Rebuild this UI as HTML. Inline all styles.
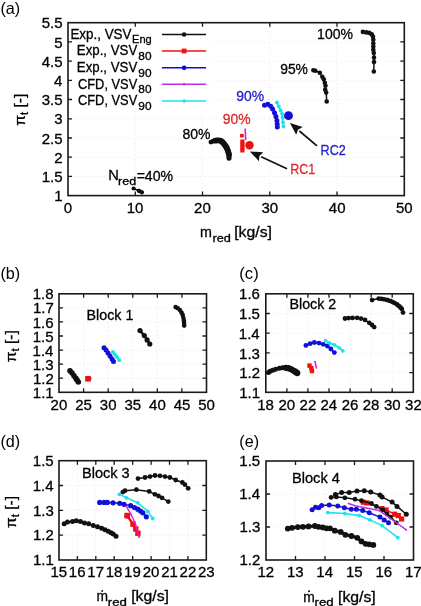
<!DOCTYPE html>
<html><head><meta charset="utf-8"><style>
html,body{margin:0;padding:0;background:#fff;width:421px;height:606px;overflow:hidden}
svg{display:block;font-family:"Liberation Sans", sans-serif;filter:blur(0.35px)}
</style></head><body>
<svg width="421" height="606" viewBox="0 0 421 606">
<path d="M135.3 22.7V195.6 M202.5 22.7V195.6 M269.8 22.7V195.6 M337.0 22.7V195.6 M68.0 176.4H404.3 M68.0 157.2H404.3 M68.0 138.0H404.3 M68.0 118.8H404.3 M68.0 99.5H404.3 M68.0 80.3H404.3 M68.0 61.1H404.3 M68.0 41.9H404.3" stroke="#eaeaea" stroke-width="0.8" stroke-dasharray="1.5 2.5" fill="none"/>
<rect x="69" y="23.5" width="140" height="86" fill="#fff"/>
<path d="M135.3 195.6v-4 M135.3 22.7v4 M202.5 195.6v-4 M202.5 22.7v4 M269.8 195.6v-4 M269.8 22.7v4 M337.0 195.6v-4 M337.0 22.7v4 M68.0 176.4h4 M404.3 176.4h-4 M68.0 157.2h4 M404.3 157.2h-4 M68.0 138.0h4 M404.3 138.0h-4 M68.0 118.8h4 M404.3 118.8h-4 M68.0 99.5h4 M404.3 99.5h-4 M68.0 80.3h4 M404.3 80.3h-4 M68.0 61.1h4 M404.3 61.1h-4 M68.0 41.9h4 M404.3 41.9h-4" stroke="#1a1a1a" stroke-width="1.3" fill="none"/>
<rect x="68.0" y="22.7" width="336.3" height="172.9" stroke="#1a1a1a" stroke-width="1.6" fill="none"/>
<text x="63.82" y="213.00" font-size="15" fill="#000" stroke="#000" stroke-width="0.3">0</text>
<text x="126.65" y="213.00" font-size="15" fill="#000" stroke="#000" stroke-width="0.3">10</text>
<text x="194.10" y="213.00" font-size="15" fill="#000" stroke="#000" stroke-width="0.3">20</text>
<text x="261.45" y="213.00" font-size="15" fill="#000" stroke="#000" stroke-width="0.3">30</text>
<text x="328.83" y="213.00" font-size="15" fill="#000" stroke="#000" stroke-width="0.3">40</text>
<text x="395.96" y="213.00" font-size="15" fill="#000" stroke="#000" stroke-width="0.3">50</text>
<text x="54.29" y="201.20" font-size="15" fill="#000" stroke="#000" stroke-width="0.3">1</text>
<text x="41.65" y="181.99" font-size="15" fill="#000" stroke="#000" stroke-width="0.3">1.5</text>
<text x="54.32" y="162.78" font-size="15" fill="#000" stroke="#000" stroke-width="0.3">2</text>
<text x="41.65" y="143.57" font-size="15" fill="#000" stroke="#000" stroke-width="0.3">2.5</text>
<text x="54.21" y="124.36" font-size="15" fill="#000" stroke="#000" stroke-width="0.3">3</text>
<text x="41.65" y="105.14" font-size="15" fill="#000" stroke="#000" stroke-width="0.3">3.5</text>
<text x="53.99" y="85.93" font-size="15" fill="#000" stroke="#000" stroke-width="0.3">4</text>
<text x="41.65" y="66.72" font-size="15" fill="#000" stroke="#000" stroke-width="0.3">4.5</text>
<text x="54.17" y="47.51" font-size="15" fill="#000" stroke="#000" stroke-width="0.3">5</text>
<text x="41.65" y="28.30" font-size="15" fill="#000" stroke="#000" stroke-width="0.3">5.5</text>
<text x="0.44" y="14.40" font-size="16.5" fill="#000" stroke="#000" stroke-width="0" textLength="19.71" lengthAdjust="spacingAndGlyphs">(a)</text>
<path d="M83.6 293.8V392.3 M108.2 293.8V392.3 M132.8 293.8V392.3 M157.3 293.8V392.3 M181.9 293.8V392.3 M59.0 378.2H206.5 M59.0 364.2H206.5 M59.0 350.1H206.5 M59.0 336.0H206.5 M59.0 321.9H206.5 M59.0 307.9H206.5" stroke="#eaeaea" stroke-width="0.8" stroke-dasharray="1.5 2.5" fill="none"/>
<path d="M83.6 392.3v-4 M83.6 293.8v4 M108.2 392.3v-4 M108.2 293.8v4 M132.8 392.3v-4 M132.8 293.8v4 M157.3 392.3v-4 M157.3 293.8v4 M181.9 392.3v-4 M181.9 293.8v4 M59.0 378.2h4 M206.5 378.2h-4 M59.0 364.2h4 M206.5 364.2h-4 M59.0 350.1h4 M206.5 350.1h-4 M59.0 336.0h4 M206.5 336.0h-4 M59.0 321.9h4 M206.5 321.9h-4 M59.0 307.9h4 M206.5 307.9h-4" stroke="#1a1a1a" stroke-width="1.3" fill="none"/>
<rect x="59.0" y="293.8" width="147.5" height="98.5" stroke="#1a1a1a" stroke-width="1.6" fill="none"/>
<text x="50.58" y="410.00" font-size="15" fill="#000" stroke="#000" stroke-width="0.3">20</text>
<text x="75.18" y="410.00" font-size="15" fill="#000" stroke="#000" stroke-width="0.3">25</text>
<text x="99.84" y="410.00" font-size="15" fill="#000" stroke="#000" stroke-width="0.3">30</text>
<text x="124.44" y="410.00" font-size="15" fill="#000" stroke="#000" stroke-width="0.3">35</text>
<text x="149.12" y="410.00" font-size="15" fill="#000" stroke="#000" stroke-width="0.3">40</text>
<text x="173.72" y="410.00" font-size="15" fill="#000" stroke="#000" stroke-width="0.3">45</text>
<text x="198.16" y="410.00" font-size="15" fill="#000" stroke="#000" stroke-width="0.3">50</text>
<text x="32.86" y="397.90" font-size="15" fill="#000" stroke="#000" stroke-width="0.3">1.1</text>
<text x="32.90" y="383.83" font-size="15" fill="#000" stroke="#000" stroke-width="0.3">1.2</text>
<text x="32.79" y="369.76" font-size="15" fill="#000" stroke="#000" stroke-width="0.3">1.3</text>
<text x="32.56" y="355.69" font-size="15" fill="#000" stroke="#000" stroke-width="0.3">1.4</text>
<text x="32.75" y="341.61" font-size="15" fill="#000" stroke="#000" stroke-width="0.3">1.5</text>
<text x="32.79" y="327.54" font-size="15" fill="#000" stroke="#000" stroke-width="0.3">1.6</text>
<text x="32.90" y="313.47" font-size="15" fill="#000" stroke="#000" stroke-width="0.3">1.7</text>
<text x="32.79" y="299.40" font-size="15" fill="#000" stroke="#000" stroke-width="0.3">1.8</text>
<text x="0.44" y="279.30" font-size="16.5" fill="#000" stroke="#000" stroke-width="0" textLength="19.71" lengthAdjust="spacingAndGlyphs">(b)</text>
<path d="M286.9 293.8V392.3 M307.9 293.8V392.3 M329.0 293.8V392.3 M350.1 293.8V392.3 M371.2 293.8V392.3 M392.2 293.8V392.3 M265.8 372.6H413.3 M265.8 352.9H413.3 M265.8 333.2H413.3 M265.8 313.5H413.3" stroke="#eaeaea" stroke-width="0.8" stroke-dasharray="1.5 2.5" fill="none"/>
<path d="M286.9 392.3v-4 M286.9 293.8v4 M307.9 392.3v-4 M307.9 293.8v4 M329.0 392.3v-4 M329.0 293.8v4 M350.1 392.3v-4 M350.1 293.8v4 M371.2 392.3v-4 M371.2 293.8v4 M392.2 392.3v-4 M392.2 293.8v4 M265.8 372.6h4 M413.3 372.6h-4 M265.8 352.9h4 M413.3 352.9h-4 M265.8 333.2h4 M413.3 333.2h-4 M265.8 313.5h4 M413.3 313.5h-4" stroke="#1a1a1a" stroke-width="1.3" fill="none"/>
<rect x="265.8" y="293.8" width="147.5" height="98.5" stroke="#1a1a1a" stroke-width="1.6" fill="none"/>
<text x="257.23" y="410.20" font-size="15" fill="#000" stroke="#000" stroke-width="0.3">18</text>
<text x="278.45" y="410.20" font-size="15" fill="#000" stroke="#000" stroke-width="0.3">20</text>
<text x="299.62" y="410.20" font-size="15" fill="#000" stroke="#000" stroke-width="0.3">22</text>
<text x="320.52" y="410.20" font-size="15" fill="#000" stroke="#000" stroke-width="0.3">24</text>
<text x="341.70" y="410.20" font-size="15" fill="#000" stroke="#000" stroke-width="0.3">26</text>
<text x="362.78" y="410.20" font-size="15" fill="#000" stroke="#000" stroke-width="0.3">28</text>
<text x="383.90" y="410.20" font-size="15" fill="#000" stroke="#000" stroke-width="0.3">30</text>
<text x="405.07" y="410.20" font-size="15" fill="#000" stroke="#000" stroke-width="0.3">32</text>
<text x="239.16" y="397.90" font-size="15" fill="#000" stroke="#000" stroke-width="0.3">1.1</text>
<text x="239.20" y="378.20" font-size="15" fill="#000" stroke="#000" stroke-width="0.3">1.2</text>
<text x="239.09" y="358.50" font-size="15" fill="#000" stroke="#000" stroke-width="0.3">1.3</text>
<text x="238.86" y="338.80" font-size="15" fill="#000" stroke="#000" stroke-width="0.3">1.4</text>
<text x="239.05" y="319.10" font-size="15" fill="#000" stroke="#000" stroke-width="0.3">1.5</text>
<text x="239.09" y="299.40" font-size="15" fill="#000" stroke="#000" stroke-width="0.3">1.6</text>
<text x="239.31" y="279.30" font-size="16.5" fill="#000" stroke="#000" stroke-width="0" textLength="19.40" lengthAdjust="spacingAndGlyphs">(c)</text>
<path d="M77.4 460.7V560.0 M95.8 460.7V560.0 M114.2 460.7V560.0 M132.7 460.7V560.0 M151.1 460.7V560.0 M169.5 460.7V560.0 M187.9 460.7V560.0 M59.0 535.2H206.3 M59.0 510.3H206.3 M59.0 485.5H206.3" stroke="#eaeaea" stroke-width="0.8" stroke-dasharray="1.5 2.5" fill="none"/>
<path d="M77.4 560.0v-4 M77.4 460.7v4 M95.8 560.0v-4 M95.8 460.7v4 M114.2 560.0v-4 M114.2 460.7v4 M132.7 560.0v-4 M132.7 460.7v4 M151.1 560.0v-4 M151.1 460.7v4 M169.5 560.0v-4 M169.5 460.7v4 M187.9 560.0v-4 M187.9 460.7v4 M59.0 535.2h4 M206.3 535.2h-4 M59.0 510.3h4 M206.3 510.3h-4 M59.0 485.5h4 M206.3 485.5h-4" stroke="#1a1a1a" stroke-width="1.3" fill="none"/>
<rect x="59.0" y="460.7" width="147.3" height="99.3" stroke="#1a1a1a" stroke-width="1.6" fill="none"/>
<text x="50.41" y="577.00" font-size="15" fill="#000" stroke="#000" stroke-width="0.3">15</text>
<text x="68.84" y="577.00" font-size="15" fill="#000" stroke="#000" stroke-width="0.3">16</text>
<text x="87.31" y="577.00" font-size="15" fill="#000" stroke="#000" stroke-width="0.3">17</text>
<text x="105.67" y="577.00" font-size="15" fill="#000" stroke="#000" stroke-width="0.3">18</text>
<text x="124.10" y="577.00" font-size="15" fill="#000" stroke="#000" stroke-width="0.3">19</text>
<text x="142.64" y="577.00" font-size="15" fill="#000" stroke="#000" stroke-width="0.3">20</text>
<text x="161.13" y="577.00" font-size="15" fill="#000" stroke="#000" stroke-width="0.3">21</text>
<text x="179.56" y="577.00" font-size="15" fill="#000" stroke="#000" stroke-width="0.3">22</text>
<text x="197.92" y="577.00" font-size="15" fill="#000" stroke="#000" stroke-width="0.3">23</text>
<text x="32.96" y="565.30" font-size="15" fill="#000" stroke="#000" stroke-width="0.3">1.1</text>
<text x="33.00" y="540.48" font-size="15" fill="#000" stroke="#000" stroke-width="0.3">1.2</text>
<text x="32.89" y="515.65" font-size="15" fill="#000" stroke="#000" stroke-width="0.3">1.3</text>
<text x="32.66" y="490.83" font-size="15" fill="#000" stroke="#000" stroke-width="0.3">1.4</text>
<text x="32.85" y="466.00" font-size="15" fill="#000" stroke="#000" stroke-width="0.3">1.5</text>
<text x="0.44" y="447.00" font-size="16.5" fill="#000" stroke="#000" stroke-width="0" textLength="19.71" lengthAdjust="spacingAndGlyphs">(d)</text>
<path d="M295.5 461.0V560.0 M325.0 461.0V560.0 M354.5 461.0V560.0 M384.0 461.0V560.0 M266.0 527.0H413.5 M266.0 494.0H413.5" stroke="#eaeaea" stroke-width="0.8" stroke-dasharray="1.5 2.5" fill="none"/>
<path d="M295.5 560.0v-4 M295.5 461.0v4 M325.0 560.0v-4 M325.0 461.0v4 M354.5 560.0v-4 M354.5 461.0v4 M384.0 560.0v-4 M384.0 461.0v4 M266.0 527.0h4 M413.5 527.0h-4 M266.0 494.0h4 M413.5 494.0h-4" stroke="#1a1a1a" stroke-width="1.3" fill="none"/>
<rect x="266.0" y="461.0" width="147.5" height="99.0" stroke="#1a1a1a" stroke-width="1.6" fill="none"/>
<text x="257.49" y="577.00" font-size="15" fill="#000" stroke="#000" stroke-width="0.3">12</text>
<text x="286.93" y="577.00" font-size="15" fill="#000" stroke="#000" stroke-width="0.3">13</text>
<text x="316.32" y="577.00" font-size="15" fill="#000" stroke="#000" stroke-width="0.3">14</text>
<text x="345.91" y="577.00" font-size="15" fill="#000" stroke="#000" stroke-width="0.3">15</text>
<text x="375.43" y="577.00" font-size="15" fill="#000" stroke="#000" stroke-width="0.3">16</text>
<text x="404.99" y="577.00" font-size="15" fill="#000" stroke="#000" stroke-width="0.3">17</text>
<text x="239.50" y="565.30" font-size="15" fill="#000" stroke="#000" stroke-width="0.3">1.2</text>
<text x="239.39" y="532.30" font-size="15" fill="#000" stroke="#000" stroke-width="0.3">1.3</text>
<text x="239.16" y="499.30" font-size="15" fill="#000" stroke="#000" stroke-width="0.3">1.4</text>
<text x="239.35" y="466.30" font-size="15" fill="#000" stroke="#000" stroke-width="0.3">1.5</text>
<text x="239.34" y="446.80" font-size="16.5" fill="#000" stroke="#000" stroke-width="0" textLength="19.82" lengthAdjust="spacingAndGlyphs">(e)</text>
<path d="M362.9 31.9 L366.3 32.4 L369.3 32.9 L371.8 34.4 L373.0 36.8 L373.3 39.8 L373.3 43.3 L373.3 46.5 L373.3 49.7 L373.8 53.0 L374.0 57.6 L374.0 62.1 L373.8 71.5" stroke="#111" stroke-width="1.5" fill="none" stroke-linejoin="round" stroke-linecap="round"/>
<circle cx="362.9" cy="31.9" r="2.3" fill="#111"/>
<circle cx="366.3" cy="32.4" r="2.3" fill="#111"/>
<circle cx="369.3" cy="32.9" r="2.3" fill="#111"/>
<circle cx="371.8" cy="34.4" r="2.3" fill="#111"/>
<circle cx="373.0" cy="36.8" r="2.3" fill="#111"/>
<circle cx="373.3" cy="39.8" r="2.3" fill="#111"/>
<circle cx="373.3" cy="43.3" r="2.3" fill="#111"/>
<circle cx="373.3" cy="46.5" r="2.3" fill="#111"/>
<circle cx="373.3" cy="49.7" r="2.3" fill="#111"/>
<circle cx="373.8" cy="53.0" r="2.3" fill="#111"/>
<circle cx="374.0" cy="57.6" r="2.3" fill="#111"/>
<circle cx="374.0" cy="62.1" r="2.3" fill="#111"/>
<circle cx="373.8" cy="71.5" r="2.3" fill="#111"/>
<path d="M313.4 70.3 L315.3 70.8 L319.8 72.8 L322.3 76.8 L323.8 79.3 L324.8 82.7 L325.5 85.7 L325.2 89.7 L326.2 92.6 L326.7 101.5" stroke="#111" stroke-width="1.5" fill="none" stroke-linejoin="round" stroke-linecap="round"/>
<circle cx="313.4" cy="70.3" r="2.3" fill="#111"/>
<circle cx="315.3" cy="70.8" r="2.3" fill="#111"/>
<circle cx="319.8" cy="72.8" r="2.3" fill="#111"/>
<circle cx="322.3" cy="76.8" r="2.3" fill="#111"/>
<circle cx="323.8" cy="79.3" r="2.3" fill="#111"/>
<circle cx="324.8" cy="82.7" r="2.3" fill="#111"/>
<circle cx="325.5" cy="85.7" r="2.3" fill="#111"/>
<circle cx="325.2" cy="89.7" r="2.3" fill="#111"/>
<circle cx="326.2" cy="92.6" r="2.3" fill="#111"/>
<circle cx="326.7" cy="101.5" r="2.3" fill="#111"/>
<path d="M210.9 142.1 L213.0 141.2 L215.2 140.7" stroke="#111" stroke-width="2" fill="none" stroke-linejoin="round" stroke-linecap="round"/>
<circle cx="210.9" cy="142.1" r="2.4" fill="#111"/>
<circle cx="213.0" cy="141.2" r="2.4" fill="#111"/>
<circle cx="215.2" cy="140.7" r="2.4" fill="#111"/>
<path d="M215.2 140.7 L217.0 140.3 L219.0 140.4 L221.0 141.0 L222.3 141.9 L223.5 143.2 L224.7 144.7 L225.7 146.2 L226.6 147.5 L227.3 149.2 L228.0 150.9 L228.5 152.7 L229.0 154.5" stroke="#111" stroke-width="4" fill="none" stroke-linejoin="round" stroke-linecap="round"/>
<circle cx="215.2" cy="140.7" r="2.9" fill="#111"/>
<circle cx="217.0" cy="140.3" r="2.9" fill="#111"/>
<circle cx="219.0" cy="140.4" r="2.9" fill="#111"/>
<circle cx="221.0" cy="141.0" r="2.9" fill="#111"/>
<circle cx="222.3" cy="141.9" r="2.9" fill="#111"/>
<circle cx="223.5" cy="143.2" r="2.9" fill="#111"/>
<circle cx="224.7" cy="144.7" r="2.9" fill="#111"/>
<circle cx="225.7" cy="146.2" r="2.9" fill="#111"/>
<circle cx="226.6" cy="147.5" r="2.9" fill="#111"/>
<circle cx="227.3" cy="149.2" r="2.9" fill="#111"/>
<circle cx="228.0" cy="150.9" r="2.9" fill="#111"/>
<circle cx="228.5" cy="152.7" r="2.9" fill="#111"/>
<circle cx="229.0" cy="154.5" r="2.9" fill="#111"/>
<path d="M229.0 154.5 L229.0 156.5 L229.0 158.3" stroke="#111" stroke-width="2" fill="none" stroke-linejoin="round" stroke-linecap="round"/>
<circle cx="229.0" cy="154.5" r="2.5" fill="#111"/>
<circle cx="229.0" cy="156.5" r="2.5" fill="#111"/>
<circle cx="229.0" cy="158.3" r="2.5" fill="#111"/>
<path d="M133.6 188.5 L139.0 190.9 L141.9 192.3" stroke="#111" stroke-width="1.5" fill="none" stroke-linejoin="round" stroke-linecap="round"/>
<circle cx="133.6" cy="188.5" r="2.1" fill="#111"/>
<circle cx="139.0" cy="190.9" r="2.1" fill="#111"/>
<circle cx="141.9" cy="192.3" r="2.1" fill="#111"/>
<path d="M138.5 190.6 L142 192.4" stroke="#111" stroke-width="3.6" stroke-linecap="round"/>
<path d="M264.5 105.2 L267.8 104.3 L270.7 106.2 L272.6 109.0 L274.5 112.8 L275.9 116.6 L276.9 120.4 L277.2 124.0 L277.3 127.1" stroke="#1010d8" stroke-width="1.6" fill="none" stroke-linejoin="round" stroke-linecap="round"/>
<circle cx="264.5" cy="105.2" r="2.5" fill="#1010d8"/>
<circle cx="267.8" cy="104.3" r="2.5" fill="#1010d8"/>
<circle cx="270.7" cy="106.2" r="2.5" fill="#1010d8"/>
<circle cx="272.6" cy="109.0" r="2.5" fill="#1010d8"/>
<circle cx="274.5" cy="112.8" r="2.5" fill="#1010d8"/>
<circle cx="275.9" cy="116.6" r="2.5" fill="#1010d8"/>
<circle cx="276.9" cy="120.4" r="2.5" fill="#1010d8"/>
<circle cx="277.2" cy="124.0" r="2.5" fill="#1010d8"/>
<circle cx="277.3" cy="127.1" r="2.5" fill="#1010d8"/>
<path d="M276.9 102.4 L278.8 106.6 L280.7 110.4 L282.1 113.8 L282.6 117.6 L283.0 122.3 L283.5 126.6" stroke="#20e0f0" stroke-width="2.0" fill="none" stroke-linejoin="round" stroke-linecap="round"/>
<circle cx="276.9" cy="102.4" r="1.9" fill="#20e0f0"/>
<circle cx="278.8" cy="106.6" r="1.9" fill="#20e0f0"/>
<circle cx="280.7" cy="110.4" r="1.9" fill="#20e0f0"/>
<circle cx="282.1" cy="113.8" r="1.9" fill="#20e0f0"/>
<circle cx="282.6" cy="117.6" r="1.9" fill="#20e0f0"/>
<circle cx="283.0" cy="122.3" r="1.9" fill="#20e0f0"/>
<circle cx="283.5" cy="126.6" r="1.9" fill="#20e0f0"/>
<rect x="240.1" y="133.9" width="3.6" height="3.6" fill="#f01010"/>
<path d="M242.4 141.6 L242.4 144.5 L242.4 147.5 L242.4 150.4" stroke="#f01010" stroke-width="2" fill="none" stroke-linejoin="round" stroke-linecap="round"/>
<rect x="240.3" y="139.5" width="4.2" height="4.2" fill="#f01010"/>
<rect x="240.3" y="142.4" width="4.2" height="4.2" fill="#f01010"/>
<rect x="240.3" y="145.4" width="4.2" height="4.2" fill="#f01010"/>
<rect x="240.3" y="148.3" width="4.2" height="4.2" fill="#f01010"/>
<path d="M245.2 128.6 L245.7 140" stroke="#d020e0" stroke-width="1.6" fill="none"/>
<circle cx="249.5" cy="145.2" r="4.2" fill="#f01010"/>
<circle cx="288.5" cy="115.7" r="4.4" fill="#1010d8"/>
<path d="M299.4 131.0 L317.0 145.8" stroke="#111" stroke-width="1.7"/>
<path d="M289.9 122.9 L296.2 134.8 L298.0 129.8 L302.7 127.1 Z" fill="#111"/>
<path d="M261.1 156.7 L287.0 168.7" stroke="#111" stroke-width="1.7"/>
<path d="M249.8 151.5 L259.0 161.3 L259.4 156.0 L263.2 152.2 Z" fill="#111"/>
<text x="317.10" y="38.80" font-size="14.5" fill="#000" stroke="#000" stroke-width="0.3" textLength="35.88" lengthAdjust="spacingAndGlyphs">100%</text>
<text x="280.19" y="74.40" font-size="14.5" fill="#000" stroke="#000" stroke-width="0.3" textLength="27.77" lengthAdjust="spacingAndGlyphs">95%</text>
<text x="236.29" y="101.40" font-size="14.5" fill="#2525c8" stroke="#2525c8" stroke-width="0.3" textLength="27.87" lengthAdjust="spacingAndGlyphs">90%</text>
<text x="222.69" y="124.40" font-size="14.5" fill="#dd2a2a" stroke="#dd2a2a" stroke-width="0.3" textLength="27.87" lengthAdjust="spacingAndGlyphs">90%</text>
<text x="182.56" y="139.40" font-size="14.5" fill="#000" stroke="#000" stroke-width="0.3" textLength="28.01" lengthAdjust="spacingAndGlyphs">80%</text>
<text x="108.24" y="180.00" font-size="14.5" fill="#000" stroke="#000" stroke-width="0.3" textLength="10.62" lengthAdjust="spacingAndGlyphs">N</text>
<text x="118.10" y="184.80" font-size="11" fill="#000" stroke="#000" stroke-width="0.3" textLength="18.14" lengthAdjust="spacingAndGlyphs">red</text>
<text x="136.65" y="180.80" font-size="14.5" fill="#000" stroke="#000" stroke-width="0.3" textLength="36.40" lengthAdjust="spacingAndGlyphs">=40%</text>
<text x="320.61" y="155.00" font-size="14.5" fill="#2525c8" stroke="#2525c8" stroke-width="0.3" textLength="25.28" lengthAdjust="spacingAndGlyphs">RC2</text>
<text x="290.22" y="174.40" font-size="14.5" fill="#dd2a30" stroke="#dd2a30" stroke-width="0.3" textLength="25.03" lengthAdjust="spacingAndGlyphs">RC1</text>
<text x="70.45" y="38.70" font-size="14.5" fill="#000" stroke="#000" stroke-width="0.3" textLength="60.97" lengthAdjust="spacingAndGlyphs">Exp., VSV</text>
<text x="132.04" y="43.30" font-size="11" fill="#000" stroke="#000" stroke-width="0.3" textLength="19.73" lengthAdjust="spacingAndGlyphs">Eng</text>
<text x="76.86" y="55.30" font-size="14.5" fill="#000" stroke="#000" stroke-width="0.3" textLength="60.36" lengthAdjust="spacingAndGlyphs">Exp., VSV</text>
<text x="138.35" y="59.90" font-size="11" fill="#000" stroke="#000" stroke-width="0.3" textLength="13.18" lengthAdjust="spacingAndGlyphs">80</text>
<text x="76.86" y="72.00" font-size="14.5" fill="#000" stroke="#000" stroke-width="0.3" textLength="60.36" lengthAdjust="spacingAndGlyphs">Exp., VSV</text>
<text x="138.28" y="76.60" font-size="11" fill="#000" stroke="#000" stroke-width="0.3" textLength="13.24" lengthAdjust="spacingAndGlyphs">90</text>
<text x="78.01" y="88.70" font-size="14.5" fill="#000" stroke="#000" stroke-width="0.3" textLength="59.20" lengthAdjust="spacingAndGlyphs">CFD, VSV</text>
<text x="138.35" y="93.30" font-size="11" fill="#000" stroke="#000" stroke-width="0.3" textLength="13.18" lengthAdjust="spacingAndGlyphs">80</text>
<text x="78.01" y="104.90" font-size="14.5" fill="#000" stroke="#000" stroke-width="0.3" textLength="59.20" lengthAdjust="spacingAndGlyphs">CFD, VSV</text>
<text x="138.28" y="109.50" font-size="11" fill="#000" stroke="#000" stroke-width="0.3" textLength="13.24" lengthAdjust="spacingAndGlyphs">90</text>
<path d="M161.9 34.5 H206.1" stroke="#111" stroke-width="1.4"/>
<path d="M161.9 51.0 H206.1" stroke="#f01010" stroke-width="1.4"/>
<path d="M161.9 67.8 H206.1" stroke="#1010d8" stroke-width="1.4"/>
<path d="M161.9 84.3 H206.1" stroke="#c030e0" stroke-width="1.4"/>
<path d="M161.9 101.0 H206.1" stroke="#20e0f0" stroke-width="1.4"/>
<circle cx="184.1" cy="34.5" r="2.3" fill="#111"/>
<rect x="181.7" y="48.6" width="4.8" height="4.8" fill="#f01010"/>
<circle cx="184.1" cy="67.8" r="2.4" fill="#1010d8"/>
<circle cx="184.1" cy="84.3" r="1.2" fill="#c030e0"/>
<circle cx="184.1" cy="101.0" r="1.8" fill="#20e0f0"/>
<text x="199.89" y="237.30" font-size="14.5" fill="#000" stroke="#000" stroke-width="0.3" textLength="11.90" lengthAdjust="spacingAndGlyphs">m</text>
<text x="212.49" y="241.60" font-size="11" fill="#000" stroke="#000" stroke-width="0.3" textLength="18.36" lengthAdjust="spacingAndGlyphs">red</text>
<text x="234.20" y="237.00" font-size="14.3" fill="#000" stroke="#000" stroke-width="0.3" textLength="37.75" lengthAdjust="spacingAndGlyphs">[kg/s]</text>
<g transform="translate(25.0 125.8) rotate(-90)"><text x="0" y="0" font-size="15.5" fill="#000" stroke="#000" stroke-width="0.3">π<tspan font-size="11.5" dy="3.3">t</tspan><tspan dy="-3.3"> [-]</tspan></text></g>
<g transform="translate(15.5 362.3) rotate(-90)"><text x="0" y="0" font-size="15.5" fill="#000" stroke="#000" stroke-width="0.3">π<tspan font-size="11.5" dy="3.3">t</tspan><tspan dy="-3.3"> [-]</tspan></text></g>
<g transform="translate(15.5 528.0) rotate(-90)"><text x="0" y="0" font-size="15.5" fill="#000" stroke="#000" stroke-width="0.3">π<tspan font-size="11.5" dy="3.3">t</tspan><tspan dy="-3.3"> [-]</tspan></text></g>
<text x="86.57" y="319.80" font-size="14.5" fill="#000" stroke="#000" stroke-width="0.3" textLength="46.78" lengthAdjust="spacingAndGlyphs">Block 1</text>
<path d="M70.0 370.7 L72.0 373.0 L74.0 375.8 L75.8 378.2 L77.0 380.0 L78.3 382.0" stroke="#111" stroke-width="3" fill="none" stroke-linejoin="round" stroke-linecap="round"/>
<circle cx="70.0" cy="370.7" r="2.8" fill="#111"/>
<circle cx="72.0" cy="373.0" r="2.8" fill="#111"/>
<circle cx="74.0" cy="375.8" r="2.8" fill="#111"/>
<circle cx="75.8" cy="378.2" r="2.8" fill="#111"/>
<circle cx="77.0" cy="380.0" r="2.8" fill="#111"/>
<circle cx="78.3" cy="382.0" r="2.8" fill="#111"/>
<circle cx="90.2" cy="378.6" r="1.6" fill="#e040c0"/>
<rect x="85.2" y="376.0" width="5.6" height="5.6" fill="#f01010"/>
<path d="M104.0 347.8 L106.0 350.0 L108.0 353.0 L110.0 356.0 L112.0 359.0 L113.5 361.6" stroke="#1010d8" stroke-width="3" fill="none" stroke-linejoin="round" stroke-linecap="round"/>
<circle cx="104.0" cy="347.8" r="2.5" fill="#1010d8"/>
<circle cx="106.0" cy="350.0" r="2.5" fill="#1010d8"/>
<circle cx="108.0" cy="353.0" r="2.5" fill="#1010d8"/>
<circle cx="110.0" cy="356.0" r="2.5" fill="#1010d8"/>
<circle cx="112.0" cy="359.0" r="2.5" fill="#1010d8"/>
<circle cx="113.5" cy="361.6" r="2.5" fill="#1010d8"/>
<path d="M113.0 352.1 L115.0 354.5 L117.0 357.2 L119.2 360.2" stroke="#20e0f0" stroke-width="2.5" fill="none" stroke-linejoin="round" stroke-linecap="round"/>
<circle cx="113.0" cy="352.1" r="2" fill="#20e0f0"/>
<circle cx="115.0" cy="354.5" r="2" fill="#20e0f0"/>
<circle cx="117.0" cy="357.2" r="2" fill="#20e0f0"/>
<circle cx="119.2" cy="360.2" r="2" fill="#20e0f0"/>
<path d="M140.0 330.6 L144.3 335.6 L147.1 339.9 L149.8 344.0" stroke="#111" stroke-width="2.4" fill="none" stroke-linejoin="round" stroke-linecap="round"/>
<circle cx="140.0" cy="330.6" r="2.6" fill="#111"/>
<circle cx="144.3" cy="335.6" r="2.6" fill="#111"/>
<circle cx="147.1" cy="339.9" r="2.6" fill="#111"/>
<circle cx="149.8" cy="344.0" r="2.6" fill="#111"/>
<path d="M175.6 307.1 L177.8 308.3 L179.9 310.0 L181.5 312.5 L182.7 315.0 L183.4 318.0 L183.9 320.7 L184.1 323.0 L184.2 325.6" stroke="#111" stroke-width="2" fill="none" stroke-linejoin="round" stroke-linecap="round"/>
<circle cx="175.6" cy="307.1" r="2.3" fill="#111"/>
<circle cx="177.8" cy="308.3" r="2.3" fill="#111"/>
<circle cx="179.9" cy="310.0" r="2.3" fill="#111"/>
<circle cx="181.5" cy="312.5" r="2.3" fill="#111"/>
<circle cx="182.7" cy="315.0" r="2.3" fill="#111"/>
<circle cx="183.4" cy="318.0" r="2.3" fill="#111"/>
<circle cx="183.9" cy="320.7" r="2.3" fill="#111"/>
<circle cx="184.1" cy="323.0" r="2.3" fill="#111"/>
<circle cx="184.2" cy="325.6" r="2.3" fill="#111"/>
<text x="289.47" y="308.60" font-size="14.5" fill="#000" stroke="#000" stroke-width="0.3" textLength="46.82" lengthAdjust="spacingAndGlyphs">Block 2</text>
<path d="M268.5 372.6 L270.0 371.3 L272.6 370.2 L275.5 369.3 L279.3 368.3 L282.5 367.8 L285.9 367.4" stroke="#111" stroke-width="2.5" fill="none" stroke-linejoin="round" stroke-linecap="round"/>
<circle cx="268.5" cy="372.6" r="2.5" fill="#111"/>
<circle cx="270.0" cy="371.3" r="2.5" fill="#111"/>
<circle cx="272.6" cy="370.2" r="2.5" fill="#111"/>
<circle cx="275.5" cy="369.3" r="2.5" fill="#111"/>
<circle cx="279.3" cy="368.3" r="2.5" fill="#111"/>
<circle cx="282.5" cy="367.8" r="2.5" fill="#111"/>
<circle cx="285.9" cy="367.4" r="2.5" fill="#111"/>
<path d="M285.9 367.8 L288.5 368.2 L290.7 369.0 L292.5 370.0 L294.5 371.2 L296.0 372.2 L297.3 373.1" stroke="#111" stroke-width="3" fill="none" stroke-linejoin="round" stroke-linecap="round"/>
<circle cx="285.9" cy="367.8" r="3.1" fill="#111"/>
<circle cx="288.5" cy="368.2" r="3.1" fill="#111"/>
<circle cx="290.7" cy="369.0" r="3.1" fill="#111"/>
<circle cx="292.5" cy="370.0" r="3.1" fill="#111"/>
<circle cx="294.5" cy="371.2" r="3.1" fill="#111"/>
<circle cx="296.0" cy="372.2" r="3.1" fill="#111"/>
<circle cx="297.3" cy="373.1" r="3.1" fill="#111"/>
<path d="M305.9 345.4 L310.1 343.7 L314.3 342.5 L319.0 343.1 L323.2 344.3 L327.3 346.0 L330.9 349.0 L334.4 352.6" stroke="#1010d8" stroke-width="2" fill="none" stroke-linejoin="round" stroke-linecap="round"/>
<circle cx="305.9" cy="345.4" r="2.4" fill="#1010d8"/>
<circle cx="310.1" cy="343.7" r="2.4" fill="#1010d8"/>
<circle cx="314.3" cy="342.5" r="2.4" fill="#1010d8"/>
<circle cx="319.0" cy="343.1" r="2.4" fill="#1010d8"/>
<circle cx="323.2" cy="344.3" r="2.4" fill="#1010d8"/>
<circle cx="327.3" cy="346.0" r="2.4" fill="#1010d8"/>
<circle cx="330.9" cy="349.0" r="2.4" fill="#1010d8"/>
<circle cx="334.4" cy="352.6" r="2.4" fill="#1010d8"/>
<path d="M325.5 340.7 L329.7 343.1 L334.4 344.8 L339.2 347.8 L342.8 350.8" stroke="#20e0f0" stroke-width="1.8" fill="none" stroke-linejoin="round" stroke-linecap="round"/>
<circle cx="325.5" cy="340.7" r="1.9" fill="#20e0f0"/>
<circle cx="329.7" cy="343.1" r="1.9" fill="#20e0f0"/>
<circle cx="334.4" cy="344.8" r="1.9" fill="#20e0f0"/>
<circle cx="339.2" cy="347.8" r="1.9" fill="#20e0f0"/>
<circle cx="342.8" cy="350.8" r="1.9" fill="#20e0f0"/>
<path d="M309.5 365.6 L311.3 368.0 L311.9 371.0" stroke="#f01010" stroke-width="2" fill="none" stroke-linejoin="round" stroke-linecap="round"/>
<rect x="307.3" y="363.4" width="4.4" height="4.4" fill="#f01010"/>
<rect x="309.1" y="365.8" width="4.4" height="4.4" fill="#f01010"/>
<rect x="309.7" y="368.8" width="4.4" height="4.4" fill="#f01010"/>
<path d="M314.8 360.9 L316.6 368.6" stroke="#d020e0" stroke-width="1.6" fill="none"/>
<path d="M345.0 318.5 L348.6 318.1 L352.5 317.9 L357.1 317.8 L361.0 318.6 L365.0 319.9 L369.2 322.8 L372.0 325.0 L374.2 327.1" stroke="#111" stroke-width="1.5" fill="none" stroke-linejoin="round" stroke-linecap="round"/>
<circle cx="345.0" cy="318.5" r="2.4" fill="#111"/>
<circle cx="348.6" cy="318.1" r="2.4" fill="#111"/>
<circle cx="352.5" cy="317.9" r="2.4" fill="#111"/>
<circle cx="357.1" cy="317.8" r="2.4" fill="#111"/>
<circle cx="361.0" cy="318.6" r="2.4" fill="#111"/>
<circle cx="365.0" cy="319.9" r="2.4" fill="#111"/>
<circle cx="369.2" cy="322.8" r="2.4" fill="#111"/>
<circle cx="372.0" cy="325.0" r="2.4" fill="#111"/>
<circle cx="374.2" cy="327.1" r="2.4" fill="#111"/>
<path d="M372.1 300.1 L378.7 298.6 L381.5 298.9 L384.0 299.3 L387.0 300.0 L390.0 300.9 L392.5 302.0 L394.7 303.1 L397.0 304.5 L398.8 306.0 L400.5 307.5 L401.8 309.0 L403.0 312.6" stroke="#111" stroke-width="1.5" fill="none" stroke-linejoin="round" stroke-linecap="round"/>
<circle cx="372.1" cy="300.1" r="2.4" fill="#111"/>
<circle cx="378.7" cy="298.6" r="2.4" fill="#111"/>
<circle cx="381.5" cy="298.9" r="2.4" fill="#111"/>
<circle cx="384.0" cy="299.3" r="2.4" fill="#111"/>
<circle cx="387.0" cy="300.0" r="2.4" fill="#111"/>
<circle cx="390.0" cy="300.9" r="2.4" fill="#111"/>
<circle cx="392.5" cy="302.0" r="2.4" fill="#111"/>
<circle cx="394.7" cy="303.1" r="2.4" fill="#111"/>
<circle cx="397.0" cy="304.5" r="2.4" fill="#111"/>
<circle cx="398.8" cy="306.0" r="2.4" fill="#111"/>
<circle cx="400.5" cy="307.5" r="2.4" fill="#111"/>
<circle cx="401.8" cy="309.0" r="2.4" fill="#111"/>
<circle cx="403.0" cy="312.6" r="2.4" fill="#111"/>
<text x="81.95" y="478.30" font-size="14.5" fill="#000" stroke="#000" stroke-width="0.3" textLength="47.75" lengthAdjust="spacingAndGlyphs">Block 3</text>
<path d="M64.2 523.7 L67.5 522.0 L72.5 521.6 L76.2 520.8 L80.4 521.6 L84.5 522.9 L88.7 523.7 L93.3 525.4 L97.5 526.8 L101.6 528.3 L105.0 529.8 L108.2 531.3 L111.0 532.8 L113.2 534.1 L116.0 536.2" stroke="#111" stroke-width="1.5" fill="none" stroke-linejoin="round" stroke-linecap="round"/>
<circle cx="64.2" cy="523.7" r="2.5" fill="#111"/>
<circle cx="67.5" cy="522.0" r="2.5" fill="#111"/>
<circle cx="72.5" cy="521.6" r="2.5" fill="#111"/>
<circle cx="76.2" cy="520.8" r="2.5" fill="#111"/>
<circle cx="80.4" cy="521.6" r="2.5" fill="#111"/>
<circle cx="84.5" cy="522.9" r="2.5" fill="#111"/>
<circle cx="88.7" cy="523.7" r="2.5" fill="#111"/>
<circle cx="93.3" cy="525.4" r="2.5" fill="#111"/>
<circle cx="97.5" cy="526.8" r="2.5" fill="#111"/>
<circle cx="101.6" cy="528.3" r="2.5" fill="#111"/>
<circle cx="105.0" cy="529.8" r="2.5" fill="#111"/>
<circle cx="108.2" cy="531.3" r="2.5" fill="#111"/>
<circle cx="111.0" cy="532.8" r="2.5" fill="#111"/>
<circle cx="113.2" cy="534.1" r="2.5" fill="#111"/>
<circle cx="116.0" cy="536.2" r="2.5" fill="#111"/>
<path d="M138.0 478.6 L145.0 477.5 L150.0 476.6 L155.0 475.5 L160.0 475.8 L165.0 476.6 L169.9 477.5 L175.7 480.0 L182.4 482.5 L184.9 484.6 L188.2 488.3" stroke="#111" stroke-width="1.5" fill="none" stroke-linejoin="round" stroke-linecap="round"/>
<circle cx="138.0" cy="478.6" r="2.4" fill="#111"/>
<circle cx="145.0" cy="477.5" r="2.4" fill="#111"/>
<circle cx="150.0" cy="476.6" r="2.4" fill="#111"/>
<circle cx="155.0" cy="475.5" r="2.4" fill="#111"/>
<circle cx="160.0" cy="475.8" r="2.4" fill="#111"/>
<circle cx="165.0" cy="476.6" r="2.4" fill="#111"/>
<circle cx="169.9" cy="477.5" r="2.4" fill="#111"/>
<circle cx="175.7" cy="480.0" r="2.4" fill="#111"/>
<circle cx="182.4" cy="482.5" r="2.4" fill="#111"/>
<circle cx="184.9" cy="484.6" r="2.4" fill="#111"/>
<circle cx="188.2" cy="488.3" r="2.4" fill="#111"/>
<path d="M122.8 492.1 L125.0 490.7 L136.4 489.7 L149.2 491.4 L154.9 494.3 L158.5 496.0 L162.0 497.8 L168.3 501.6" stroke="#111" stroke-width="1.5" fill="none" stroke-linejoin="round" stroke-linecap="round"/>
<circle cx="122.8" cy="492.1" r="2.4" fill="#111"/>
<circle cx="125.0" cy="490.7" r="2.4" fill="#111"/>
<circle cx="136.4" cy="489.7" r="2.4" fill="#111"/>
<circle cx="149.2" cy="491.4" r="2.4" fill="#111"/>
<circle cx="154.9" cy="494.3" r="2.4" fill="#111"/>
<circle cx="158.5" cy="496.0" r="2.4" fill="#111"/>
<circle cx="162.0" cy="497.8" r="2.4" fill="#111"/>
<circle cx="168.3" cy="501.6" r="2.4" fill="#111"/>
<path d="M119.3 494.3 L126.4 497.8 L137.8 502.8 L147.8 511.4 L152.7 518.5" stroke="#20e0f0" stroke-width="1.6" fill="none" stroke-linejoin="round" stroke-linecap="round"/>
<circle cx="119.3" cy="494.3" r="1.9" fill="#20e0f0"/>
<circle cx="126.4" cy="497.8" r="1.9" fill="#20e0f0"/>
<circle cx="137.8" cy="502.8" r="1.9" fill="#20e0f0"/>
<circle cx="147.8" cy="511.4" r="1.9" fill="#20e0f0"/>
<circle cx="152.7" cy="518.5" r="1.9" fill="#20e0f0"/>
<path d="M99.7 502.4 L104.0 502.4 L107.3 502.4 L113.0 502.8 L119.7 503.3 L124.0 504.3 L130.7 505.7 L134.5 507.5 L137.8 509.2 L140.5 511.0 L142.8 512.8 L146.3 516.8" stroke="#1010d8" stroke-width="1.5" fill="none" stroke-linejoin="round" stroke-linecap="round"/>
<circle cx="99.7" cy="502.4" r="2.6" fill="#1010d8"/>
<circle cx="104.0" cy="502.4" r="2.6" fill="#1010d8"/>
<circle cx="107.3" cy="502.4" r="2.6" fill="#1010d8"/>
<circle cx="113.0" cy="502.8" r="2.6" fill="#1010d8"/>
<circle cx="119.7" cy="503.3" r="2.6" fill="#1010d8"/>
<circle cx="124.0" cy="504.3" r="2.6" fill="#1010d8"/>
<circle cx="130.7" cy="505.7" r="2.6" fill="#1010d8"/>
<circle cx="134.5" cy="507.5" r="2.6" fill="#1010d8"/>
<circle cx="137.8" cy="509.2" r="2.6" fill="#1010d8"/>
<circle cx="140.5" cy="511.0" r="2.6" fill="#1010d8"/>
<circle cx="142.8" cy="512.8" r="2.6" fill="#1010d8"/>
<circle cx="146.3" cy="516.8" r="2.6" fill="#1010d8"/>
<path d="M127.1 515.5 L133.0 524.2 L135.8 529.0 L137.9 533.2" stroke="#f01010" stroke-width="2.4" fill="none" stroke-linejoin="round" stroke-linecap="round"/>
<rect x="124.4" y="512.8" width="5.4" height="5.4" fill="#f01010"/>
<rect x="130.3" y="521.5" width="5.4" height="5.4" fill="#f01010"/>
<rect x="133.1" y="526.3" width="5.4" height="5.4" fill="#f01010"/>
<rect x="135.2" y="530.5" width="5.4" height="5.4" fill="#f01010"/>
<circle cx="127.3" cy="515.8" r="2.9" fill="#f01010"/>
<path d="M126.4 506.4 L130.9 514.2 L135.1 522.8 L139.2 537.0" stroke="#e020d0" stroke-width="1.4" fill="none" stroke-linejoin="round" stroke-linecap="round"/>
<circle cx="126.4" cy="506.4" r="1.0" fill="#e020d0"/>
<circle cx="130.9" cy="514.2" r="1.0" fill="#e020d0"/>
<circle cx="135.1" cy="522.8" r="1.0" fill="#e020d0"/>
<circle cx="139.2" cy="537.0" r="1.0" fill="#e020d0"/>
<text x="291.94" y="482.90" font-size="14.5" fill="#000" stroke="#000" stroke-width="0.3" textLength="48.04" lengthAdjust="spacingAndGlyphs">Block 4</text>
<path d="M363.3 502.2 L366.9 502.9 L381.9 508.6 L386.1 510.0 L394.7 514.2 L398.3 515.6 L401.6 519.0" stroke="#f01010" stroke-width="1.5" fill="none" stroke-linejoin="round" stroke-linecap="round"/>
<rect x="360.7" y="499.6" width="5.2" height="5.2" fill="#f01010"/>
<rect x="364.3" y="500.3" width="5.2" height="5.2" fill="#f01010"/>
<rect x="379.3" y="506.0" width="5.2" height="5.2" fill="#f01010"/>
<rect x="383.5" y="507.4" width="5.2" height="5.2" fill="#f01010"/>
<rect x="392.1" y="511.6" width="5.2" height="5.2" fill="#f01010"/>
<rect x="395.7" y="513.0" width="5.2" height="5.2" fill="#f01010"/>
<rect x="399.0" y="516.4" width="5.2" height="5.2" fill="#f01010"/>
<path d="M287.8 528.6 L292.0 527.8 L297.8 527.1 L303.0 526.8 L308.5 526.4 L314.9 526.0 L318.5 526.8 L322.8 527.4 L326.5 528.3 L330.0 528.3 L334.8 530.7 L340.7 531.9 L345.4 534.8 L351.4 536.0 L357.3 537.8 L361.5 541.4 L365.6 543.8 L369.2 544.3 L373.3 544.9" stroke="#111" stroke-width="3" fill="none" stroke-linejoin="round" stroke-linecap="round"/>
<circle cx="287.8" cy="528.6" r="2.9" fill="#111"/>
<circle cx="292.0" cy="527.8" r="2.9" fill="#111"/>
<circle cx="297.8" cy="527.1" r="2.9" fill="#111"/>
<circle cx="303.0" cy="526.8" r="2.9" fill="#111"/>
<circle cx="308.5" cy="526.4" r="2.9" fill="#111"/>
<circle cx="314.9" cy="526.0" r="2.9" fill="#111"/>
<circle cx="318.5" cy="526.8" r="2.9" fill="#111"/>
<circle cx="322.8" cy="527.4" r="2.9" fill="#111"/>
<circle cx="326.5" cy="528.3" r="2.9" fill="#111"/>
<circle cx="330.0" cy="528.3" r="2.9" fill="#111"/>
<circle cx="334.8" cy="530.7" r="2.9" fill="#111"/>
<circle cx="340.7" cy="531.9" r="2.9" fill="#111"/>
<circle cx="345.4" cy="534.8" r="2.9" fill="#111"/>
<circle cx="351.4" cy="536.0" r="2.9" fill="#111"/>
<circle cx="357.3" cy="537.8" r="2.9" fill="#111"/>
<circle cx="361.5" cy="541.4" r="2.9" fill="#111"/>
<circle cx="365.6" cy="543.8" r="2.9" fill="#111"/>
<circle cx="369.2" cy="544.3" r="2.9" fill="#111"/>
<circle cx="373.3" cy="544.9" r="2.9" fill="#111"/>
<path d="M331.1 497.4 L336.4 496.9 L344.9 497.8 L355.0 499.2 L361.4 500.7 L371.4 503.5 L376.4 506.4 L382.8 509.9 L387.1 514.2 L390.6 517.1 L396.3 522.8" stroke="#111" stroke-width="1.5" fill="none" stroke-linejoin="round" stroke-linecap="round"/>
<circle cx="331.1" cy="497.4" r="2.4" fill="#111"/>
<circle cx="336.4" cy="496.9" r="2.4" fill="#111"/>
<circle cx="344.9" cy="497.8" r="2.4" fill="#111"/>
<circle cx="355.0" cy="499.2" r="2.4" fill="#111"/>
<circle cx="361.4" cy="500.7" r="2.4" fill="#111"/>
<circle cx="371.4" cy="503.5" r="2.4" fill="#111"/>
<circle cx="376.4" cy="506.4" r="2.4" fill="#111"/>
<circle cx="382.8" cy="509.9" r="2.4" fill="#111"/>
<circle cx="387.1" cy="514.2" r="2.4" fill="#111"/>
<circle cx="390.6" cy="517.1" r="2.4" fill="#111"/>
<circle cx="396.3" cy="522.8" r="2.4" fill="#111"/>
<path d="M335.4 494.5 L341.6 492.6 L349.2 492.5 L357.0 491.1 L364.3 490.7 L370.7 492.1 L379.9 495.0 L382.1 497.1 L392.1 502.1 L397.0 506.4 L406.3 514.2" stroke="#111" stroke-width="1.5" fill="none" stroke-linejoin="round" stroke-linecap="round"/>
<circle cx="335.4" cy="494.5" r="2.5" fill="#111"/>
<circle cx="341.6" cy="492.6" r="2.5" fill="#111"/>
<circle cx="349.2" cy="492.5" r="2.5" fill="#111"/>
<circle cx="357.0" cy="491.1" r="2.5" fill="#111"/>
<circle cx="364.3" cy="490.7" r="2.5" fill="#111"/>
<circle cx="370.7" cy="492.1" r="2.5" fill="#111"/>
<circle cx="379.9" cy="495.0" r="2.5" fill="#111"/>
<circle cx="382.1" cy="497.1" r="2.5" fill="#111"/>
<circle cx="392.1" cy="502.1" r="2.5" fill="#111"/>
<circle cx="397.0" cy="506.4" r="2.5" fill="#111"/>
<circle cx="406.3" cy="514.2" r="2.5" fill="#111"/>
<path d="M348.5 503.5 L355.0 505.7 L379.2 510.6 L390.6 518.5 L406.3 529.9" stroke="#c030e0" stroke-width="1.5" fill="none" stroke-linejoin="round" stroke-linecap="round"/>
<circle cx="348.5" cy="503.5" r="0.8" fill="#c030e0"/>
<circle cx="355.0" cy="505.7" r="0.8" fill="#c030e0"/>
<circle cx="379.2" cy="510.6" r="0.8" fill="#c030e0"/>
<circle cx="390.6" cy="518.5" r="0.8" fill="#c030e0"/>
<circle cx="406.3" cy="529.9" r="0.8" fill="#c030e0"/>
<path d="M312.1 509.7 L315.5 507.3 L318.8 507.8 L321.6 505.4 L329.2 505.0 L337.8 505.9 L344.4 507.8 L351.3 509.2 L356.4 509.2 L362.7 510.6 L369.3 512.8 L380.0 517.1 L384.2 519.9 L388.5 522.8" stroke="#1010d8" stroke-width="1.5" fill="none" stroke-linejoin="round" stroke-linecap="round"/>
<circle cx="312.1" cy="509.7" r="2.5" fill="#1010d8"/>
<circle cx="315.5" cy="507.3" r="2.5" fill="#1010d8"/>
<circle cx="318.8" cy="507.8" r="2.5" fill="#1010d8"/>
<circle cx="321.6" cy="505.4" r="2.5" fill="#1010d8"/>
<circle cx="329.2" cy="505.0" r="2.5" fill="#1010d8"/>
<circle cx="337.8" cy="505.9" r="2.5" fill="#1010d8"/>
<circle cx="344.4" cy="507.8" r="2.5" fill="#1010d8"/>
<circle cx="351.3" cy="509.2" r="2.5" fill="#1010d8"/>
<circle cx="356.4" cy="509.2" r="2.5" fill="#1010d8"/>
<circle cx="362.7" cy="510.6" r="2.5" fill="#1010d8"/>
<circle cx="369.3" cy="512.8" r="2.5" fill="#1010d8"/>
<circle cx="380.0" cy="517.1" r="2.5" fill="#1010d8"/>
<circle cx="384.2" cy="519.9" r="2.5" fill="#1010d8"/>
<circle cx="388.5" cy="522.8" r="2.5" fill="#1010d8"/>
<path d="M327.8 512.6 L344.9 513.5 L359.3 515.6 L369.9 519.9 L382.1 525.6 L397.8 537.7" stroke="#20e0f0" stroke-width="1.6" fill="none" stroke-linejoin="round" stroke-linecap="round"/>
<circle cx="327.8" cy="512.6" r="1.9" fill="#20e0f0"/>
<circle cx="344.9" cy="513.5" r="1.9" fill="#20e0f0"/>
<circle cx="359.3" cy="515.6" r="1.9" fill="#20e0f0"/>
<circle cx="369.9" cy="519.9" r="1.9" fill="#20e0f0"/>
<circle cx="382.1" cy="525.6" r="1.9" fill="#20e0f0"/>
<circle cx="397.8" cy="537.7" r="1.9" fill="#20e0f0"/>
<text x="96.41" y="601.20" font-size="14.5" fill="#000" stroke="#000" stroke-width="0.3" textLength="11.54" lengthAdjust="spacingAndGlyphs">m</text>
<circle cx="102.2" cy="590.9" r="0.95" fill="#000"/>
<text x="107.76" y="605.60" font-size="11" fill="#000" stroke="#000" stroke-width="0.3" textLength="19.12" lengthAdjust="spacingAndGlyphs">red</text>
<text x="131.20" y="601.20" font-size="14" fill="#000" stroke="#000" stroke-width="0.3" textLength="37.75" lengthAdjust="spacingAndGlyphs">[kg/s]</text>
<text x="303.21" y="601.60" font-size="14.5" fill="#000" stroke="#000" stroke-width="0.3" textLength="11.54" lengthAdjust="spacingAndGlyphs">m</text>
<circle cx="309.0" cy="591.3" r="0.95" fill="#000"/>
<text x="314.56" y="606.00" font-size="11" fill="#000" stroke="#000" stroke-width="0.3" textLength="19.12" lengthAdjust="spacingAndGlyphs">red</text>
<text x="338.00" y="601.60" font-size="14" fill="#000" stroke="#000" stroke-width="0.3" textLength="37.75" lengthAdjust="spacingAndGlyphs">[kg/s]</text>
</svg></body></html>
